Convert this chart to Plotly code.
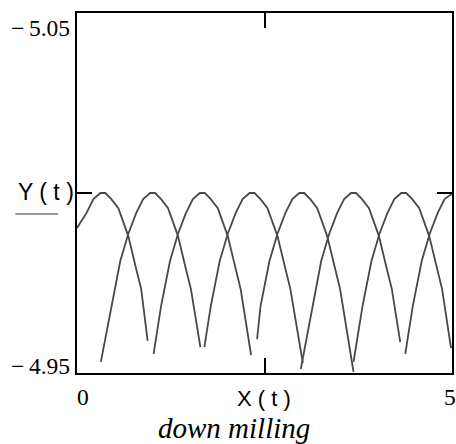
import plotly.graph_objects as go

# ---- data ----
arc1_x = [0.000, 0.126, 0.219, 0.312, 0.378, 0.458, 0.551, 0.683, 0.789, 0.856, 0.942]
arc1_y = [-4.9903, -4.9944, -4.9983, -5.0000, -5.0000, -4.9983, -4.9958, -4.9881, -4.9789, -4.9733, -4.9589]

arc2_x = [0.318, 0.458, 0.577, 0.683, 0.789, 0.882, 0.975, 1.041, 1.121, 1.214, 1.346, 1.452, 1.519, 1.645]
arc2_y = [-4.9531, -4.9686, -4.9811, -4.9886, -4.9944, -4.9983, -5.0000, -5.0000, -4.9983, -4.9958, -4.9881, -4.9789, -4.9733, -4.9572]

arc3_x = [1.021, 1.121, 1.240, 1.346, 1.452, 1.545, 1.638, 1.704, 1.784, 1.877, 2.009, 2.115, 2.182, 2.321]
arc3_y = [-4.9553, -4.9686, -4.9811, -4.9886, -4.9944, -4.9983, -5.0000, -5.0000, -4.9983, -4.9958, -4.9881, -4.9789, -4.9733, -4.9550]

arc4_x = [1.698, 1.784, 1.903, 2.009, 2.115, 2.208, 2.301, 2.367, 2.447, 2.540, 2.672, 2.778, 2.845, 3.011]
arc4_y = [-4.9572, -4.9686, -4.9811, -4.9886, -4.9944, -4.9983, -5.0000, -5.0000, -4.9983, -4.9958, -4.9881, -4.9789, -4.9733, -4.9528]

arc5_x = [2.401, 2.447, 2.566, 2.672, 2.778, 2.871, 2.964, 3.030, 3.110, 3.203, 3.335, 3.441, 3.508, 3.687]
arc5_y = [-4.9594, -4.9686, -4.9811, -4.9886, -4.9944, -4.9983, -5.0000, -5.0000, -4.9983, -4.9958, -4.9881, -4.9789, -4.9733, -4.9503]

arc6_x = [2.984, 3.137, 3.256, 3.362, 3.468, 3.561, 3.654, 3.720, 3.800, 3.893, 4.025, 4.131, 4.198, 4.310]
arc6_y = [-4.9511, -4.9686, -4.9811, -4.9886, -4.9944, -4.9983, -5.0000, -5.0000, -4.9983, -4.9958, -4.9881, -4.9789, -4.9733, -4.9586]

arc7_x = [3.687, 3.807, 3.926, 4.032, 4.138, 4.231, 4.324, 4.390, 4.470, 4.563, 4.695, 4.801, 4.868, 4.987]
arc7_y = [-4.9531, -4.9686, -4.9811, -4.9886, -4.9944, -4.9983, -5.0000, -5.0000, -4.9983, -4.9958, -4.9881, -4.9789, -4.9733, -4.9569]

arc8_x = [4.377, 4.477, 4.596, 4.702, 4.808, 4.901, 5.000]
arc8_y = [-4.9553, -4.9686, -4.9811, -4.9886, -4.9944, -4.9983, -4.9998]

arcs = [(arc1_x, arc1_y), (arc2_x, arc2_y), (arc3_x, arc3_y), (arc4_x, arc4_y),
        (arc5_x, arc5_y), (arc6_x, arc6_y), (arc7_x, arc7_y), (arc8_x, arc8_y)]

x_range = [0, 5]
y_range = [-4.95, -5.05]  # upper limit -5.05 shown at top
x_tick = [2.5]
y_tick = [-5.0]
y_top_label = "\u2212\u20095.05"
y_bottom_label = "\u2212\u20094.95"
x_left_label = "0"
x_right_label = "5"
x_title = "X ( t )"
y_title = "Y ( t )"
caption = "down milling"

# ---- figure ----
W, H = 456, 444
L, R, T, B = 77, 2, 13, 71
PW, PH = W - L - R, H - T - B


def px(xp):
    return (xp - L) / PW


def py(yp):
    return (H - B - yp) / PH


fig = go.Figure()
for ax_, ay_ in arcs:
    fig.add_trace(go.Scatter(x=ax_, y=ay_, mode="lines",
                             line=dict(color="#484848", width=1.8),
                             showlegend=False, hoverinfo="skip"))

axis_common = dict(showgrid=False, zeroline=False, showline=True, linecolor="black",
                   linewidth=2, mirror="ticks", ticks="inside", ticklen=15,
                   tickwidth=2, tickcolor="black", showticklabels=False)

fig.update_layout(
    width=W, height=H,
    margin=dict(l=L, r=R, t=T, b=B, pad=0),
    paper_bgcolor="white", plot_bgcolor="white",
    xaxis=dict(range=x_range, tickvals=x_tick, **axis_common),
    yaxis=dict(range=y_range, tickvals=y_tick, **axis_common),
)

serif = "Liberation Serif"
sans = "Liberation Sans"

ann = [
    dict(text=y_top_label, x=px(71), y=py(28), xanchor="right", yanchor="middle",
         font=dict(family=serif, size=23.5, color="black")),
    dict(text=y_bottom_label, x=px(71), y=py(366), xanchor="right", yanchor="middle",
         font=dict(family=serif, size=23.5, color="black")),
    dict(text=x_left_label, x=px(83), y=py(397), xanchor="center", yanchor="middle",
         font=dict(family=serif, size=23.5, color="black")),
    dict(text=x_right_label, x=px(452), y=py(397), xanchor="center", yanchor="middle",
         font=dict(family=serif, size=23.5, color="black")),
    dict(text=x_title, x=px(265), y=py(398), xanchor="center", yanchor="middle",
         font=dict(family=sans, size=22, color="black")),
    dict(text=y_title, x=px(75), y=py(192), xanchor="right", yanchor="middle",
         font=dict(family=sans, size=23, color="black")),
    dict(text="<i>" + caption + "</i>", x=px(235), y=py(428), xanchor="center", yanchor="middle",
         font=dict(family=serif, size=29, color="black")),
]
for a in ann:
    fig.add_annotation(xref="paper", yref="paper", showarrow=False, borderpad=0, **a)

fig.add_shape(type="line", xref="paper", yref="paper",
              x0=px(15), x1=px(58), y0=py(214), y1=py(214),
              line=dict(color="#333333", width=1))

fig.write_html("out.html")
